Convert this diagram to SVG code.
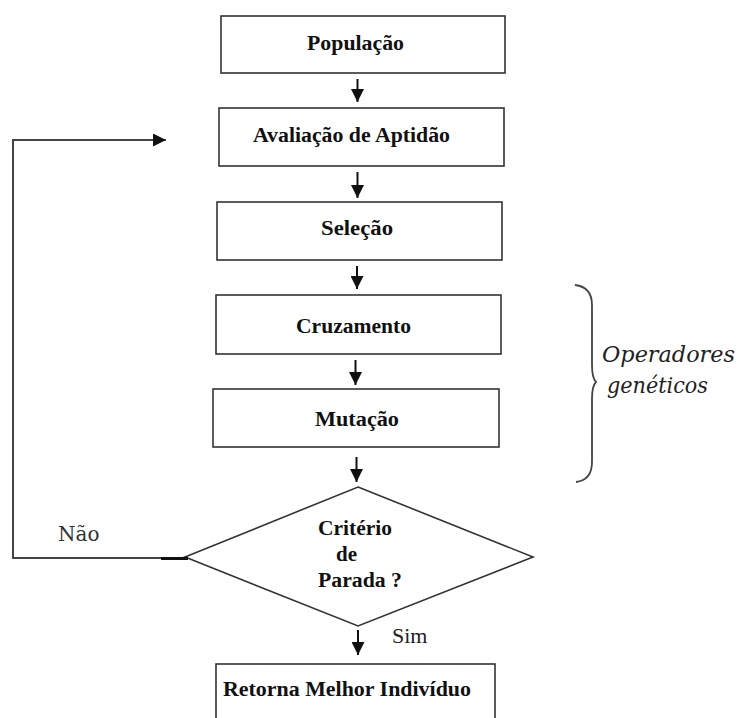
<svg xmlns="http://www.w3.org/2000/svg" width="740" height="718" viewBox="0 0 740 718">
<style>
.box{fill:#fff;stroke:#333;stroke-width:1.6}
.t{font-family:'Liberation Serif','DejaVu Serif','Times New Roman',Times,serif;font-weight:700;font-size:20px;fill:#111}
.lbl{font-family:'Liberation Serif','DejaVu Serif','Times New Roman',Times,serif;font-size:22px;fill:#222}
.nao{font-family:'DejaVu Serif','Liberation Serif',serif;font-size:20px;fill:#333}
.it{font-family:'DejaVu Serif','Liberation Serif',serif;font-style:italic;font-size:22px;fill:#222}
.ln{fill:none;stroke:#111;stroke-width:2}
.fb{fill:none;stroke:#444;stroke-width:2}
</style>
<defs>
<marker id="ah" viewBox="0 0 10 10" refX="10" refY="5" markerWidth="6.5" markerHeight="6.5" markerUnits="strokeWidth" orient="auto">
<path d="M0,0 L10,5 L0,10 Z" fill="#111"/>
</marker>
</defs>
<rect width="740" height="718" fill="#fff"/>
<g id="n1"><rect class="box" x="221" y="16" width="284" height="57"/><text class="t" font-family="Liberation Serif, serif" x="307" y="50" textLength="97" lengthAdjust="spacingAndGlyphs">População</text></g>
<g id="n2"><rect class="box" x="219" y="108" width="285" height="58"/><text class="t" x="253" y="142" textLength="197" lengthAdjust="spacingAndGlyphs">Avaliação de Aptidão</text></g>
<g id="n3"><rect class="box" x="217" y="202" width="285" height="58"/><text class="t" x="321" y="235" textLength="72" lengthAdjust="spacingAndGlyphs">Seleção</text></g>
<g id="n4"><rect class="box" x="216" y="295" width="285" height="59"/><text class="t" x="296" y="333" textLength="115" lengthAdjust="spacingAndGlyphs">Cruzamento</text></g>
<g id="n5"><rect class="box" x="213" y="389" width="286" height="58"/><text class="t" x="315" y="426" textLength="84" lengthAdjust="spacingAndGlyphs">Mutação</text></g>
<g id="n6"><polygon class="box" points="358,487 533,557 358,626 185,557"/>
<text class="t" x="318" y="535" textLength="74" lengthAdjust="spacingAndGlyphs">Critério</text>
<text class="t" x="336" y="561" textLength="21" lengthAdjust="spacingAndGlyphs">de</text>
<text class="t" x="318" y="587" textLength="84" lengthAdjust="spacingAndGlyphs">Parada ?</text></g>
<g id="n7"><rect class="box" x="216" y="664" width="279" height="70"/><text class="t" x="223" y="696" textLength="248" lengthAdjust="spacingAndGlyphs">Retorna Melhor Indivíduo</text></g>
<g id="connectors">
<line class="ln" x1="357.5" y1="79" x2="357.5" y2="102" marker-end="url(#ah)"/>
<line class="ln" x1="357.5" y1="172" x2="357.5" y2="198" marker-end="url(#ah)"/>
<line class="ln" x1="357" y1="266" x2="357" y2="289" marker-end="url(#ah)"/>
<line class="ln" x1="355.5" y1="360" x2="355.5" y2="385" marker-end="url(#ah)"/>
<line class="ln" x1="356.5" y1="457" x2="356.5" y2="482" marker-end="url(#ah)"/>
<line class="ln" x1="358" y1="630" x2="358" y2="655" marker-end="url(#ah)"/>
<polyline class="fb" points="186,558 13,558 13,140 166,140" marker-end="url(#ah)"/>
<line x1="161" y1="558.5" x2="188" y2="558.5" stroke="#111" stroke-width="3"/>
<text class="nao" x="58" y="541">Não</text>
<text class="lbl" x="392" y="643">Sim</text>
</g>
<g id="brace">
<path d="M575,285 Q592,287 592,305 L592,365 Q592,378 596,382 Q592,386 592,399 L592,462 Q592,480 576,482" fill="none" stroke="#444" stroke-width="1.8"/>
<text class="it" x="602" y="362" textLength="133" lengthAdjust="spacingAndGlyphs">Operadores</text>
<text class="it" x="607" y="393" textLength="101" lengthAdjust="spacingAndGlyphs">genéticos</text>
</g>
</svg>
